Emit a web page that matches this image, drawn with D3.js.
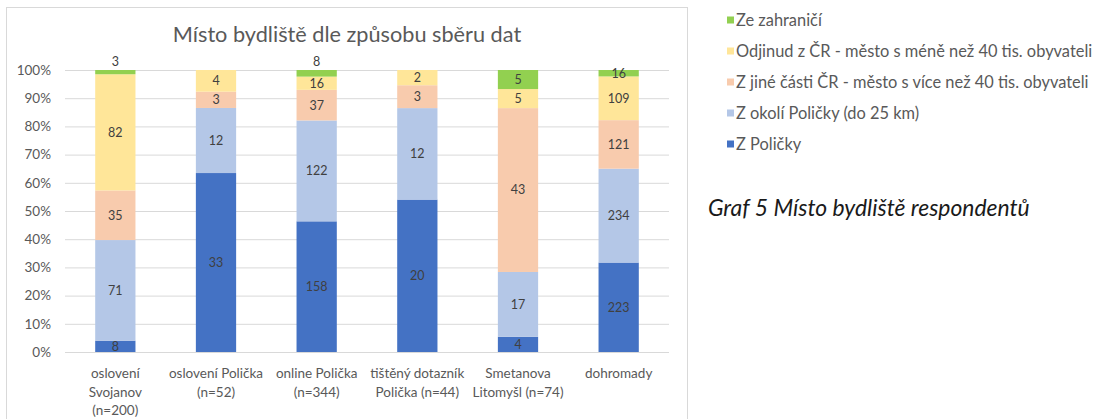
<!DOCTYPE html>
<html>
<head>
<meta charset="utf-8">
<script src="https://cdn.jsdelivr.net/npm/d3@7"></script>
<style>
  body { margin: 0; background: #fff; }
  svg { display: block; font-family: Lato, "Open Sans", sans-serif; }
</style>
</head>
<body>
<div id="chart"></div>
<script>
(function(){

    // categories (tick labels, \n = line break)
    var categories = [
        "oslovení\nSvojanov\n(n=200)",
        "oslovení Polička\n(n=52)",
        "online Polička\n(n=344)",
        "tištěný dotazník\nPolička (n=44)",
        "Smetanova\nLitomyšl (n=74)",
        "dohromady"
    ];

    // series, bottom to top
    var seriesNames = [
        "Z Poličky",
        "Z okolí Poličky (do 25 km)",
        "Z jiné části ČR - město s více než 40 tis. obyvateli",
        "Odjinud z ČR - město s méně než 40 tis. obyvateli",
        "Ze zahraničí"
    ];
    var zPolicky   = [8, 33, 158, 20, 4, 223];
    var zOkoli     = [71, 12, 122, 12, 17, 234];
    var zJine      = [35, 3, 37, 3, 43, 121];
    var odjinud    = [82, 4, 16, 2, 5, 109];
    var zahranici  = [3, 0, 8, 0, 5, 16];
    var seriesValues = [zPolicky, zOkoli, zJine, odjinud, zahranici];
    var colors = ["#4472C4", "#B4C7E7", "#F8CBAD", "#FFE699", "#92D050"];

    var yTicks = [0, 0.1, 0.2, 0.3, 0.4, 0.5, 0.6, 0.7, 0.8, 0.9, 1];

    var title = "Místo bydliště dle způsobu sběru dat";
    var caption = "Graf 5 Místo bydliště respondentů";

    var width = 1095, height = 419;
    var plot = {left: 65, right: 669, top: 70, bottom: 352};

    // rows for d3.stack
    var rows = categories.map(function(c, i) {
        var r = {cat: c};
        seriesNames.forEach(function(s, k) { r[s] = seriesValues[k][i]; });
        return r;
    });

    var stacked = d3.stack()
        .keys(seriesNames)
        .offset(d3.stackOffsetExpand)(rows);

    var x = d3.scaleBand()
        .domain(categories)
        .range([plot.left, plot.right])
        .paddingInner(0.6)
        .paddingOuter(0.3);

    var y = d3.scaleLinear()
        .domain([0, 1])
        .range([plot.bottom, plot.top]);

    var svg = d3.select("#chart")
        .append("svg")
        .attr("width", width)
        .attr("height", height);

    svg.append("rect")
        .attr("width", width).attr("height", height)
        .attr("fill", "#fff");

    // chart frame
    svg.append("rect")
        .attr("x", 6.5).attr("y", 7.5)
        .attr("width", 681).attr("height", 440)
        .attr("fill", "none")
        .attr("stroke", "#d9d9d9");

    // title
    svg.append("text")
        .attr("x", 347).attr("y", 42)
        .attr("text-anchor", "middle")
        .attr("font-size", 21.7)
        .attr("fill", "#595959")
        .text(title);

    // y axis with gridlines
    var yAxis = d3.axisLeft(y)
        .tickValues(yTicks)
        .tickSize(-(plot.right - plot.left))
        .tickPadding(14)
        .tickFormat(d3.format(".0%"));

    var gy = svg.append("g")
        .attr("transform", "translate(" + plot.left + ",0)")
        .call(yAxis);
    gy.select(".domain").remove();
    gy.selectAll(".tick line").attr("stroke", "#d9d9d9");
    gy.selectAll(".tick text")
        .attr("font-size", 13.5)
        .attr("font-family", "Lato, sans-serif")
        .attr("fill", "#595959");

    // bars
    var layer = svg.selectAll("g.layer")
        .data(stacked)
        .enter().append("g")
        .attr("class", "layer")
        .attr("fill", function(d, i) { return colors[i]; });

    layer.selectAll("rect")
        .data(function(d) { return d; })
        .enter().append("rect")
        .attr("x", function(d) { return x(d.data.cat); })
        .attr("width", x.bandwidth())
        .attr("y", function(d) { return y(d[1]); })
        .attr("height", function(d) { return y(d[0]) - y(d[1]); });

    // data labels
    stacked.forEach(function(s, k) {
        s.forEach(function(d, i) {
            var v = seriesValues[k][i];
            if (!v) return;
            var h = y(d[0]) - y(d[1]);
            var cy = (y(d[0]) + y(d[1])) / 2;
            // thin single digit segments get their label above the bar
            if (h < 8 && v < 10) cy = y(d[1]) - 8;
            svg.append("text")
                .attr("x", x(d.data.cat) + x.bandwidth() / 2)
                .attr("y", cy)
                .attr("dy", "0.35em")
                .attr("text-anchor", "middle")
                .attr("font-size", 12.5)
                .attr("fill", "#404040")
                .text(v);
        });
    });

    // x axis labels
    var xl = svg.append("g");
    categories.forEach(function(c) {
        var t = xl.append("text")
            .attr("x", x(c) + x.bandwidth() / 2)
            .attr("y", 378)
            .attr("text-anchor", "middle")
            .attr("font-size", 13.5)
            .attr("fill", "#595959");
        c.split("\n").forEach(function(line, j) {
            t.append("tspan")
                .attr("x", x(c) + x.bandwidth() / 2)
                .attr("dy", j ? 18.5 : 0)
                .text(line);
        });
    });

    // legend (reverse of stacking order)
    var legendOrder = seriesNames.slice().reverse();
    var lg = svg.append("g").attr("transform", "translate(727,20)");
    legendOrder.forEach(function(name, j) {
        var k = seriesNames.indexOf(name);
        var row = lg.append("g").attr("transform", "translate(0," + (j * 31) + ")");
        row.append("rect")
            .attr("x", 0).attr("y", -3.5)
            .attr("width", 7).attr("height", 7)
            .attr("fill", colors[k]);
        row.append("text")
            .attr("x", 9).attr("y", 0)
            .attr("dy", "0.35em")
            .attr("font-size", 16.4)
            .attr("fill", "#595959")
            .text(name);
    });

    // caption
    svg.append("text")
        .attr("x", 708).attr("y", 216)
        .attr("font-size", 22.9)
        .attr("font-style", "italic")
        .attr("fill", "#1a1a1a")
        .text(caption);

})();
</script>
</body>
</html>
